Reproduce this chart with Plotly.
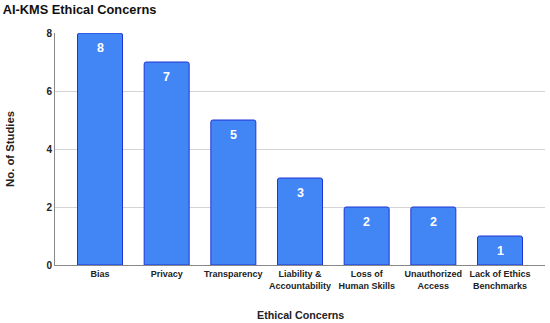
import plotly.graph_objects as go

categories = ["Bias", "Privacy", "Transparency", "Liability &<br>Accountability",
              "Loss of<br>Human Skills", "Unauthorized<br>Access", "Lack of Ethics<br>Benchmarks"]
studies = [8, 7, 5, 3, 2, 2, 1]
y_ticks = [0, 2, 4, 6, 8]

FONT = "Liberation Sans"

fig = go.Figure(go.Bar(
    x=categories, y=studies,
    marker=dict(color="#4285F4", line=dict(color="#1f35d6", width=1)),
    hoverinfo="x+y",
))
for c, v in zip(categories, studies):
    fig.add_annotation(x=c, y=v, text=f"<b>{v}</b>", showarrow=False, yshift=-15,
                       font=dict(color="white", size=12.5, family=FONT))

fig.add_annotation(xref="paper", yref="paper", x=0.5, y=-0.215, yanchor="middle",
                   text="<b>Ethical Concerns</b>", showarrow=False,
                   font=dict(size=10.7, color="#222222", family=FONT))
fig.add_annotation(xref="paper", yref="paper", x=-0.092, xanchor="center", y=0.5, textangle=-90,
                   text="<b>No. of Studies</b>", showarrow=False,
                   font=dict(size=11.3, color="#222222", family=FONT))

fig.update_layout(
    width=550, height=323,
    margin=dict(l=55, r=5, t=33, b=58),
    paper_bgcolor="white", plot_bgcolor="white",
    font=dict(family=FONT, color="#222222"),
    title=dict(text="<b>AI-KMS Ethical Concerns</b>", x=0.005, xanchor="left", y=0.985, yanchor="top",
               xref="container", font=dict(size=12.8, color="#111111")),
    bargap=0.325, barcornerradius=2,
    showlegend=False,
)
fig.update_xaxes(
    tickfont=dict(size=9, color="#222222", weight="bold"),
    range=[-0.675, 6.675], automargin=False,
    showline=True, linecolor="#888888", linewidth=1, ticks="",
)
fig.update_yaxes(
    tickvals=y_ticks, range=[0, 8], automargin=False,
    tickfont=dict(size=10, color="#222222", weight="bold"),
    showline=True, linecolor="#888888", linewidth=1,
    gridcolor="#d4d4d4", gridwidth=1, zeroline=False, ticks="",
)
fig.write_html("out.html", config={"displayModeBar": False},
               post_script="document.body.style.margin='0';document.body.style.overflow='hidden';")
